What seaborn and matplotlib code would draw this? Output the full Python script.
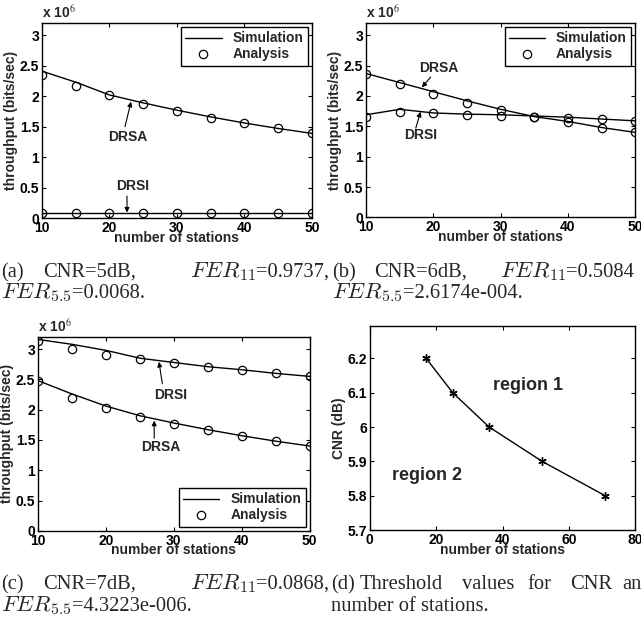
import numpy as np
import pandas as pd
import matplotlib
matplotlib.use('Agg')
import matplotlib.pyplot as plt
import seaborn as sns
from matplotlib.lines import Line2D

# data (throughput in units of 10^6 bits/sec)
stations = [10, 15, 20, 25, 30, 35, 40, 45, 50]

a_drsa_sim = [2.41, 2.23, 2.02, 1.89, 1.77, 1.66, 1.56, 1.47, 1.39]
a_drsa_ana = [2.34, 2.17, 2.02, 1.87, 1.76, 1.65, 1.56, 1.47, 1.40]
a_drsi_sim = [0.08, 0.08, 0.08, 0.08, 0.08, 0.08, 0.08, 0.08, 0.08]
a_drsi_ana = [0.08, 0.08, 0.08, 0.08, 0.08, 0.08, 0.08, 0.08, 0.08]

b_drsa_sim = [2.37, 2.22, 2.07, 1.92, 1.78, 1.66, 1.58, 1.48, 1.40]
b_drsa_ana = [2.36, 2.19, 2.03, 1.89, 1.77, 1.66, 1.57, 1.48, 1.41]
b_drsi_sim = [1.69, 1.78, 1.72, 1.70, 1.69, 1.67, 1.65, 1.62, 1.59]
b_drsi_ana = [1.65, 1.73, 1.72, 1.69, 1.67, 1.66, 1.63, 1.62, 1.58]

c_drsi_sim = [3.16, 3.08, 2.98, 2.85, 2.78, 2.71, 2.66, 2.60, 2.55]
c_drsi_ana = [3.14, 3.00, 2.91, 2.83, 2.77, 2.71, 2.65, 2.60, 2.55]
c_drsa_sim = [2.48, 2.26, 2.06, 1.90, 1.78, 1.67, 1.57, 1.48, 1.40]
c_drsa_ana = [2.47, 2.20, 2.03, 1.88, 1.77, 1.66, 1.57, 1.48, 1.40]

d_stations = [17, 25, 36, 52, 71]
d_cnr = [6.2, 6.1, 6.0, 5.9, 5.8]

y_ticks = [0, 0.5, 1, 1.5, 2, 2.5, 3]
y_ticklabels = ['0', '0.5', '1', '1.5', '2', '2.5', '3']
x_ticks = [10, 20, 30, 40, 50]
d_yticks = [5.7, 5.8, 5.9, 6.0, 6.1, 6.2]
d_yticklabels = ['5.7', '5.8', '5.9', '6', '6.1', '6.2']
d_xticks = [0, 20, 40, 60, 80]

sns.set_style('ticks')
plt.rcParams['font.family'] = ['Liberation Sans', 'DejaVu Sans']
plt.rcParams['axes.labelweight'] = 'bold'
plt.rcParams['font.size'] = 10
plt.rcParams['mathtext.fontset'] = 'stix'
plt.rcParams['axes.linewidth'] = 1.0

fig = plt.figure(figsize=(6.41, 6.23), dpi=100)
ax_a = fig.add_axes([0.0655, 0.650, 0.421, 0.313])
ax_b = fig.add_axes([0.571, 0.651, 0.420, 0.312])
ax_c = fig.add_axes([0.0593, 0.148, 0.424, 0.311])
ax_d = fig.add_axes([0.577, 0.149, 0.414, 0.328])


def draw_pair(ax, sim, ana):
    df = pd.DataFrame({'n': stations, 'sim': sim, 'ana': ana})
    sns.lineplot(data=df, x='n', y='sim', ax=ax, color='k', lw=1.0)
    sns.lineplot(data=df, x='n', y='ana', ax=ax, color='k', linestyle='none',
                 marker='o', markersize=6, markerfacecolor='none',
                 markeredgecolor='k', markeredgewidth=0.9)


def bold_ticks(ax):
    ax.tick_params(direction='in', top=True, right=True, length=3, pad=2,
                   colors='k', labelsize=10)
    for t in ax.get_xticklabels() + ax.get_yticklabels():
        t.set_fontweight('bold')
    for sp in ax.spines.values():
        sp.set_color('k')


def style_throughput(ax, legend_loc):
    ax.set_xlim(10, 50)
    ax.set_ylim(0, 3.2)
    ax.set_xticks(x_ticks)
    ax.set_yticks(y_ticks)
    ax.set_yticklabels(y_ticklabels)
    bold_ticks(ax)
    ax.set_xlabel('number of stations', labelpad=-3)
    ax.set_ylabel('throughput (bits/sec)', labelpad=1)
    ax.text(0, 1.01, r'x 10$^6$', transform=ax.transAxes, ha='left', va='bottom',
            fontsize=10, fontweight='bold')
    handles = [Line2D([], [], color='k', lw=1.0),
               Line2D([], [], color='k', linestyle='none', marker='o', markersize=6,
                      markerfacecolor='none', markeredgewidth=0.9)]
    leg = ax.legend(handles, ['Simulation', 'Analysis'], loc=legend_loc,
                    frameon=True, fancybox=False, edgecolor='k', framealpha=1,
                    borderaxespad=0.3, handlelength=2.6, borderpad=0.3,
                    labelspacing=0.15, prop={'size': 10, 'weight': 'bold'})
    leg.get_frame().set_linewidth(1.0)


def arrow_label(ax, label, text_xy, tail, tip):
    ax.text(text_xy[0], text_xy[1], label, ha='center', va='center',
            fontsize=10, fontweight='bold')
    ax.annotate('', xy=tip, xytext=tail,
                arrowprops=dict(arrowstyle='-|>', color='k', lw=0.8,
                                mutation_scale=7, shrinkA=0, shrinkB=0))


# (a)
draw_pair(ax_a, a_drsa_sim, a_drsa_ana)
draw_pair(ax_a, a_drsi_sim, a_drsi_ana)
style_throughput(ax_a, 'upper right')
arrow_label(ax_a, 'DRSA', (22.7, 1.33), (22.3, 1.50), (23.2, 1.91))
arrow_label(ax_a, 'DRSI', (23.4, 0.52), (22.6, 0.36), (22.6, 0.09))

# (b)
draw_pair(ax_b, b_drsa_sim, b_drsa_ana)
draw_pair(ax_b, b_drsi_sim, b_drsi_ana)
style_throughput(ax_b, 'upper right')
arrow_label(ax_b, 'DRSA', (20.8, 2.46), (19.6, 2.31), (18.3, 2.14))
arrow_label(ax_b, 'DRSI', (18.1, 1.36), (17.4, 1.47), (18.1, 1.74))

# (c)
draw_pair(ax_c, c_drsi_sim, c_drsi_ana)
draw_pair(ax_c, c_drsa_sim, c_drsa_ana)
style_throughput(ax_c, 'lower right')
arrow_label(ax_c, 'DRSI', (29.5, 2.24), (28.3, 2.43), (27.8, 2.79))
arrow_label(ax_c, 'DRSA', (28.0, 1.39), (27.1, 1.53), (27.1, 1.82))

# (d)
df_d = pd.DataFrame({'n': d_stations, 'cnr': d_cnr})
sns.lineplot(data=df_d, x='n', y='cnr', ax=ax_d, color='k', lw=1.0,
             marker=(6, 2, 0), markersize=6, markeredgecolor='k', markeredgewidth=1.0)
ax_d.set_xlim(0, 80)
ax_d.set_ylim(5.7, 6.295)
ax_d.set_xticks(d_xticks)
ax_d.set_yticks(d_yticks)
ax_d.set_yticklabels(d_yticklabels)
bold_ticks(ax_d)
ax_d.set_xlabel('number of stations', labelpad=-3)
ax_d.set_ylabel('CNR (dB)', labelpad=1)
ax_d.text(47.8, 6.12, 'region 1', ha='center', va='center', fontsize=13, fontweight='bold')
ax_d.text(17.1, 5.86, 'region 2', ha='center', va='center', fontsize=13, fontweight='bold')

# captions (justified by hand, positions in pixels)
W, H = 641.0, 623.0
serif = ['Liberation Serif', 'DejaVu Serif']
renderer = fig.canvas.get_renderer()


def ctext(px, py, pieces, ha='left'):
    # pieces: list of (string, size); math pieces use computer-modern italics
    x = px
    made = []
    for s, size in pieces:
        t = fig.text(x / W, 1 - py / H, s, ha='left', va='baseline',
                     fontsize=size, family=serif, math_fontfamily='cm')
        w = t.get_window_extent(renderer).width
        made.append((t, x))
        x += w
    if ha == 'right':
        shift = px - x
        for t, x0 in made:
            t.set_x((x0 + shift) / W)


def fer(sub, val, big=16.5, small=14.8):
    return [(r'$FER_{%s}$' % sub, big), (val, small)]


ctext(1, 277, [('(a)', 14.8)])
ctext(43, 277, [('CNR=5dB,', 14.8)])
ctext(329, 277, fer('11', '=0.9737,'), ha='right')
ctext(1, 298, fer('5.5', '=0.0068.'))
ctext(332, 277, [('(b)', 14.8)])
ctext(374, 277, [('CNR=6dB,', 14.8)])
ctext(500, 277, fer('11', '=0.5084'))
ctext(332, 298, fer('5.5', '=2.6174e-004.'))

ctext(1, 589, [('(c)', 14.8)])
ctext(43, 589, [('CNR=7dB,', 14.8)])
ctext(329, 589, fer('11', '=0.0868,'), ha='right')
ctext(1, 611, fer('5.5', '=4.3223e-006.'))
ctext(331, 589, [('(d)', 14.8)])
ctext(360, 589, [('Threshold', 14.8)])
ctext(462, 589, [('values', 14.8)])
ctext(527, 589, [('for', 14.8)])
ctext(570, 589, [('CNR', 14.8)])
ctext(622, 589, [('and', 14.8)])
ctext(331, 611, [('number of stations.', 14.8)])

fig.savefig('out.png', dpi=100)
